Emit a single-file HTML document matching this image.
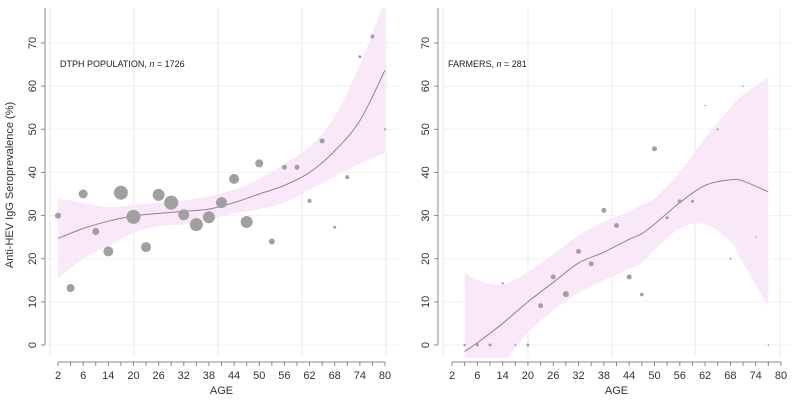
<!DOCTYPE html>
<html><head><meta charset="utf-8"><style>
html,body{margin:0;padding:0;background:#fff;}
svg{display:block;font-family:"Liberation Sans",Arial,sans-serif;}
</style></head><body>
<svg id="chart" width="800" height="401" viewBox="0 0 800 401"></svg>
<script>
const tickLabels=["2","6","14","20","26","32","38","44","50","56","62","68","74","80"];
const yTicks=[0,10,20,30,40,50,60,70];
// left panel (DTPH population): category index, value, marker radius
const leftIdx=[0,1,2,3,4,5,6,7,8,9,10,11,12,13,14,15,16,17,18,19,20,21,22,23,24,25,26];
const leftVal=[30,13.2,35,26.3,21.7,35.3,29.7,22.7,34.8,33,30.2,27.9,29.6,33,38.5,28.5,42.1,24,41.2,41.2,33.4,47.3,27.3,38.9,66.8,71.5,50];
const leftSize=[3,4,4.5,3.5,5,7,7,5,6,7,5.5,6.5,6,5.5,5,6,4,3,2.5,2.5,2,2.5,1.5,2,1.5,2,1];
const leftFitIdx=[0,2,4,6,8,10,12,14,16,18,20,22,24,26];
const leftFit=[24.7,27,28.7,29.9,30.5,31,31.5,33,35,37,40,45,52,63.7];
const leftLo=[15.5,20,23,26,27.5,28,29,30.5,31.5,33,36,39,42,44.5];
const leftHi=[34,33,32,32.5,33,33.5,34.5,36,38.5,42,46,53,65,80];
// right panel (farmers)
const rightIdx=[1,2,3,4,5,6,7,8,9,10,11,12,13,14,15,16,17,18,19,20,21,22,23,24,25];
const rightVal=[0,0,0,14.3,0,0,9.1,15.8,11.8,21.7,18.8,31.2,27.7,15.8,11.7,45.5,29.5,33.3,33.3,55.5,50,20,60,25,0];
const rightSize=[1.2,1.5,1.5,1.2,1,1.5,2.5,2.5,3,2.5,2.5,2.5,2.5,2.5,1.8,2.5,1.5,2,1.5,0.8,1,1,0.8,0.8,0.8];
const rightFitIdx=[1,2,4,6,8,10,12,14,15,16,18,20,22,23,25];
const rightFit=[-1.5,0.5,5,10,14.5,19,21.5,24.5,25.8,28,33,37,38.3,38,35.5];
const rightLo=[-8,-6,-4,3,8,12,15,17.5,19,22,27,28,24,19,9];
const rightHi=[17,15,14,17,21,25.5,28.5,31,32.5,34,40,48,55,58,62];

const NS="http://www.w3.org/2000/svg";
const svg=document.getElementById('chart');
function mk(tag,attrs,parent){const e=document.createElementNS(NS,tag);for(const k in attrs)e.setAttribute(k,attrs[k]);(parent||svg).appendChild(e);return e;}
function smooth(pts,move){
  let d=(move?'M':'L')+pts[0][0]+','+pts[0][1];
  for(let i=0;i<pts.length-1;i++){
    const p0=pts[Math.max(0,i-1)],p1=pts[i],p2=pts[i+1],p3=pts[Math.min(pts.length-1,i+2)];
    const c1x=p1[0]+(p2[0]-p0[0])/6,c1y=p1[1]+(p2[1]-p0[1])/6;
    const c2x=p2[0]-(p3[0]-p1[0])/6,c2y=p2[1]-(p3[1]-p1[1])/6;
    d+='C'+c1x+','+c1y+' '+c2x+','+c2y+' '+p2[0]+','+p2[1];
  }
  return d;
}

function panel(p){
  const g=mk('g',{});
  
  
  const X=i=>p.x0+i*(p.x1-p.x0)/26;
  const Y=v=>345-v*(302/70);
  const cid='clip'+p.name;
  const cp=mk('clipPath',{id:cid},g);mk('rect',{x:p.left,y:8,width:p.right-p.left,height:350},cp);
  yTicks.forEach(v=>{const l=mk('line',{x1:p.left,x2:p.right,y1:Y(v),y2:Y(v),stroke:'#e4e4e4','stroke-width':1,'stroke-dasharray':'1,1'},g);
    });
  p.vgrid.forEach(x=>{const l=mk('line',{x1:x,x2:x,y1:8,y2:357,stroke:'#e8e8e8','stroke-width':1},g);
    });
  const cg=mk('g',{'clip-path':'url(#'+cid+')'},g);
  const hiPts=p.fi.map((i,k)=>[X(i),Y(p.hi[k])]);
  const loPts=p.fi.map((i,k)=>[X(i),Y(p.lo[k])]).reverse();
  const band=mk('path',{d:smooth(hiPts,true)+smooth(loPts,false)+'Z',fill:'#f8e8f8'},cg);
  
  const fitPts=p.fi.map((i,k)=>[X(i),Y(p.fit[k])]);
  const fl=mk('path',{d:smooth(fitPts,true),fill:'none',stroke:'#a07a98','stroke-width':1},cg);
  
  p.idx.forEach((i,k)=>{const c=mk('circle',{cx:X(i),cy:Y(p.val[k]),r:p.size[k],fill:'#a0a0a0'},cg);
    });
  mk('line',{x1:p.yax,x2:p.yax,y1:8,y2:345,stroke:'#888','stroke-width':1},g);
  yTicks.forEach(v=>{mk('line',{x1:p.yax-4,x2:p.yax,y1:Y(v),y2:Y(v),stroke:'#888'},g);
    const t=mk('text',{x:p.yax-9,y:Y(v),'font-size':11,fill:'#333','text-anchor':'middle',transform:'rotate(-90 '+(p.yax-9)+' '+Y(v)+')'},g);
    t.textContent=v;});
  mk('line',{x1:p.x0,x2:p.x1,y1:362,y2:362,stroke:'#888'},g);
  for(let i=0;i<=26;i++)mk('line',{x1:X(i),x2:X(i),y1:362,y2:366,stroke:'#888'},g);
  tickLabels.forEach((s,k)=>{const t=mk('text',{x:X(k*2),y:379,'font-size':11,fill:'#333','text-anchor':'middle'},g);
    t.textContent=s;});
  const xt=mk('text',{x:(p.x0+p.x1)/2,y:394,'font-size':11,fill:'#333','text-anchor':'middle'},g);
  xt.textContent='AGE';
  const lab=mk('text',{x:p.labx,y:67,'font-size':9,fill:'#222'},g);
  lab.innerHTML=p.label+', <tspan font-style="italic">n</tspan> = '+p.n;
  
}
panel({name:'dtph-panel',x0:58,x1:385,left:48,right:399,yax:45,vgrid:[50,134,218,302,386],
  idx:leftIdx,val:leftVal,size:leftSize,fi:leftFitIdx,fit:leftFit,lo:leftLo,hi:leftHi,labx:60,label:'DTPH POPULATION',n:1726});
panel({name:'farmers-panel',x0:452,x1:781,left:443,right:793,yax:438,vgrid:[443,528,612,695,780],
  idx:rightIdx,val:rightVal,size:rightSize,fi:rightFitIdx,fit:rightFit,lo:rightLo,hi:rightHi,labx:448,label:'FARMERS',n:281});
const yt=mk('text',{x:13,y:185,'font-size':11,fill:'#333','text-anchor':'middle',transform:'rotate(-90 13 185)'});
yt.textContent='Anti-HEV IgG Seroprevalence (%)';


</script>
</body></html>
